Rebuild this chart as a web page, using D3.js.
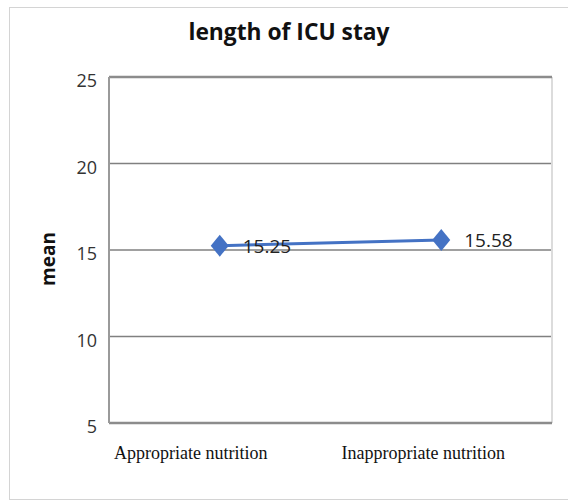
<!DOCTYPE html>
<html>
<head>
<meta charset="utf-8">
<script src="https://cdn.jsdelivr.net/npm/d3@7"></script>
<style>
  html, body { margin: 0; padding: 0; background: #fff; }
  svg { display: block; }
</style>
</head>
<body>
<script>
const categories = ["Appropriate nutrition", "Inappropriate nutrition"];
const values = [15.25, 15.58];
const valueLabels = ["15.25", "15.58"];
const yTicks = [5, 10, 15, 20, 25];
const title = "length of ICU stay";
const yTitle = "mean";

const W = 568, H = 502;
const m = { left: 109, right: 16, top: 77, bottom: 79 };
const iw = W - m.left - m.right, ih = H - m.top - m.bottom;

const svg = d3.select("body").append("svg").attr("width", W).attr("height", H);

// outer frame
svg.append("rect").attr("x", 9.5).attr("y", 7.5).attr("width", W + 10).attr("height", 492)
  .attr("fill", "none").attr("stroke", "#d4d4d4").attr("stroke-width", 1);

const x = d3.scaleBand().domain(categories).range([0, iw]);
const y = d3.scaleLinear().domain([5, 25]).range([ih, 0]);

const g = svg.append("g").attr("transform", `translate(${m.left},${m.top})`);

// gridlines
g.append("g").selectAll("line").data(yTicks.filter(t => t !== 5 && t !== 25)).join("line")
  .attr("x1", 0).attr("x2", iw).attr("y1", d => y(d)).attr("y2", d => y(d))
  .attr("stroke", "#808080").attr("stroke-width", 1.5);

// plot border
g.append("line").attr("x1", iw).attr("x2", iw).attr("y1", 0).attr("y2", ih)
  .attr("stroke", "#dcdcdc").attr("stroke-width", 2);
g.append("line").attr("x1", 0).attr("x2", iw).attr("y1", 0).attr("y2", 0)
  .attr("stroke", "#8c8c8c").attr("stroke-width", 2.5);
g.append("line").attr("x1", 0).attr("x2", iw).attr("y1", ih).attr("y2", ih)
  .attr("stroke", "#8c8c8c").attr("stroke-width", 2.5);
g.append("line").attr("x1", 0).attr("x2", 0).attr("y1", 0).attr("y2", ih)
  .attr("stroke", "#9a9a9a").attr("stroke-width", 2);

// y axis
const yAxis = g.append("g").call(d3.axisLeft(y).tickValues(yTicks).tickSize(0).tickPadding(12));
yAxis.select(".domain").remove();
yAxis.selectAll("text")
  .attr("font-family", "'Open Sans', sans-serif").attr("font-size", 18)
  .attr("fill", "#333").attr("dy", "0.55em");

// x labels
const xLabelDx = [-29, -18];
g.append("g").selectAll("text").data(categories).join("text")
  .attr("x", (d, i) => x(d) + x.bandwidth() / 2 + xLabelDx[i])
  .attr("y", ih + 36)
  .attr("text-anchor", "middle")
  .attr("font-family", "'Liberation Serif', serif").attr("font-size", 18)
  .attr("fill", "#111")
  .text(d => d);

// line
const data = categories.map((c, i) => ({ c, v: values[i], label: valueLabels[i] }));
const line = d3.line().x(d => x(d.c) + x.bandwidth() / 2).y(d => y(d.v));
g.append("path").datum(data).attr("d", line)
  .attr("fill", "none").attr("stroke", "#4472C4").attr("stroke-width", 3);

// diamond markers
g.append("g").selectAll("path").data(data).join("path")
  .attr("transform", d => `translate(${x(d.c) + x.bandwidth() / 2},${y(d.v)})`)
  .attr("d", "M0,-11L9,0L0,11L-9,0Z")
  .attr("fill", "#4472C4");

// value labels
g.append("g").selectAll("text").data(data).join("text")
  .attr("x", d => x(d.c) + x.bandwidth() / 2 + 23)
  .attr("y", d => y(d.v))
  .attr("dy", "0.36em")
  .attr("font-family", "'Open Sans', sans-serif").attr("font-size", 19)
  .attr("fill", "#222")
  .text(d => d.label);

// title
svg.append("text").attr("x", 289).attr("y", 40).attr("text-anchor", "middle")
  .attr("font-family", "'Open Sans', sans-serif").attr("font-weight", "bold").attr("font-size", 22.8)
  .attr("fill", "#111").text(title);

// y title
svg.append("text").attr("transform", "translate(55,259) rotate(-90)")
  .attr("text-anchor", "middle")
  .attr("font-family", "'Open Sans', sans-serif").attr("font-weight", "bold").attr("font-size", 19)
  .attr("fill", "#111").text(yTitle);
</script>
</body>
</html>
